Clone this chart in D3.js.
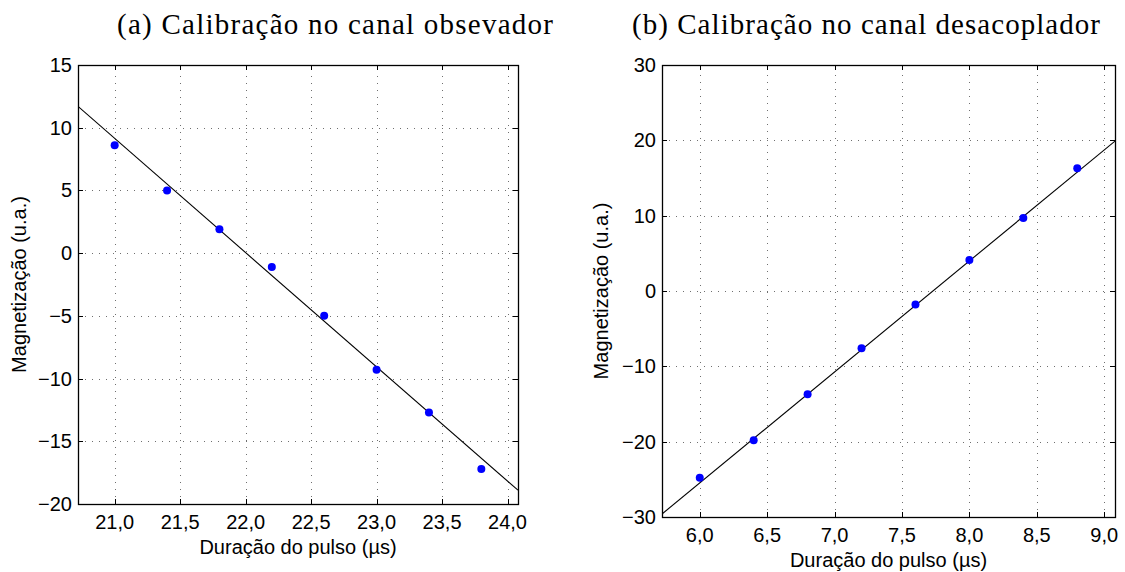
<!DOCTYPE html>
<html>
<head>
<meta charset="utf-8">
<script src="https://cdn.jsdelivr.net/npm/d3@7"></script>
<style>
  html, body { margin: 0; padding: 0; background: #fff; }
  svg { display: block; }
  .tick-label { font-family: "Liberation Sans", Arial, sans-serif; font-size: 20px; fill: #000; }
  .axis-title { font-family: "Liberation Sans", Arial, sans-serif; font-size: 20px; fill: #000; }
  .panel-title { font-family: "Liberation Serif", "DejaVu Serif", serif; font-size: 29px; fill: #000; }
</style>
</head>
<body>
<svg id="chart" width="1125" height="572"></svg>
<script>
// ---- Panel (a): observer channel ----
const obsDuration = [21.0, 21.4, 21.8, 22.2, 22.6, 23.0, 23.4, 23.8];
const obsMagnet   = [8.6, 5.0, 1.9, -1.1, -5.0, -9.3, -12.7, -17.2];
const obsFitX     = [20.72, 24.08];
const obsFitY     = [11.7, -18.9];
const obsXTicks   = [21.0, 21.5, 22.0, 22.5, 23.0, 23.5, 24.0];
const obsYTicks   = [-20, -15, -10, -5, 0, 5, 10, 15];
const obsXDomain  = [20.72, 24.08];
const obsYDomain  = [-20, 15];

// ---- Panel (b): decoupler channel ----
const decDuration = [6.0, 6.4, 6.8, 7.2, 7.6, 8.0, 8.4, 8.8];
const decMagnet   = [-24.8, -19.8, -13.7, -7.6, -1.8, 4.1, 9.7, 16.3];
const decFitX     = [5.72, 9.08];
const decFitY     = [-29.6, 19.9];
const decXTicks   = [6.0, 6.5, 7.0, 7.5, 8.0, 8.5, 9.0];
const decYTicks   = [-30, -20, -10, 0, 10, 20, 30];
const decXDomain  = [5.72, 9.08];
const decYDomain  = [-30, 30];

const titles = ["(a) Calibração no canal obsevador", "(b) Calibração no canal desacoplador"];
const xTitle = "Duração do pulso (µs)";
const yTitle = "Magnetização (u.a.)";

const svg = d3.select("#chart");
const fmtX = v => d3.format(".1f")(v).replace(".", ",");
const fmtY = v => (v < 0 ? "\u2212" + Math.abs(v) : String(v));

function panel(opts) {
  const { box, xDomain, yDomain, xTicks, yTicks, xs, ys, fitX, fitY, title, titleX, titleLen, yTitleX } = opts;
  const x = d3.scaleLinear().domain(xDomain).range([box.left, box.right]);
  const y = d3.scaleLinear().domain(yDomain).range([box.bottom, box.top]);
  const g = svg.append("g");

  // dotted grid
  const grid = g.append("g").attr("stroke", "#333").attr("stroke-width", 1)
    .attr("stroke-dasharray", "1,6").attr("opacity", 0.7);
  grid.selectAll("line.vx").data(xTicks).join("line")
    .attr("x1", d => Math.round(x(d)) + 0.5).attr("x2", d => Math.round(x(d)) + 0.5)
    .attr("y1", box.bottom).attr("y2", box.top);
  grid.selectAll("line.hy").data(yTicks.filter(v => v > yDomain[0] && v < yDomain[1])).join("line")
    .attr("y1", d => Math.round(y(d)) + 0.5).attr("y2", d => Math.round(y(d)) + 0.5)
    .attr("x1", box.left).attr("x2", box.right);

  // clip region for the fitted line
  const clipId = "clip" + Math.round(box.left);
  g.append("clipPath").attr("id", clipId).append("rect")
    .attr("x", box.left).attr("y", box.top)
    .attr("width", box.right - box.left).attr("height", box.bottom - box.top);

  // fitted line
  g.append("path")
    .datum(fitX.map((v, i) => [v, fitY[i]]))
    .attr("clip-path", `url(#${clipId})`)
    .attr("fill", "none").attr("stroke", "#000").attr("stroke-width", 1.1)
    .attr("d", d3.line().x(d => x(d[0])).y(d => y(d[1])));

  // measured points
  g.append("g").selectAll("circle").data(xs.map((v, i) => [v, ys[i]])).join("circle")
    .attr("cx", d => x(d[0])).attr("cy", d => y(d[1])).attr("r", 4)
    .attr("fill", "#0000ff");

  // inward ticks on all four sides
  const tl = 5;
  const ticks = g.append("g").attr("stroke", "#000").attr("stroke-width", 1);
  xTicks.forEach(v => {
    const px = Math.round(x(v)) + 0.5;
    ticks.append("line").attr("x1", px).attr("x2", px).attr("y1", box.bottom).attr("y2", box.bottom - tl);
    ticks.append("line").attr("x1", px).attr("x2", px).attr("y1", box.top).attr("y2", box.top + tl);
  });
  yTicks.forEach(v => {
    const py = Math.round(y(v)) + 0.5;
    ticks.append("line").attr("y1", py).attr("y2", py).attr("x1", box.left).attr("x2", box.left + tl);
    ticks.append("line").attr("y1", py).attr("y2", py).attr("x1", box.right).attr("x2", box.right - tl);
  });

  // frame
  g.append("rect").attr("x", box.left + 0.5).attr("y", box.top + 0.5)
    .attr("width", box.right - box.left).attr("height", box.bottom - box.top)
    .attr("fill", "none").attr("stroke", "#000").attr("stroke-width", 1.3);

  // tick labels
  g.append("g").selectAll("text").data(xTicks).join("text")
    .attr("class", "tick-label").attr("text-anchor", "middle")
    .attr("x", d => x(d)).attr("y", box.bottom + 25)
    .text(fmtX);
  g.append("g").selectAll("text").data(yTicks).join("text")
    .attr("class", "tick-label").attr("text-anchor", "end")
    .attr("x", box.left - 6).attr("y", d => y(d) + 7)
    .text(fmtY);

  // axis titles
  g.append("text").attr("class", "axis-title").attr("text-anchor", "middle")
    .attr("x", (box.left + box.right) / 2).attr("y", box.bottom + 50)
    .text(xTitle);
  g.append("text").attr("class", "axis-title").attr("text-anchor", "middle")
    .attr("transform", `translate(${yTitleX},${(box.top + box.bottom) / 2}) rotate(-90)`)
    .text(yTitle);

  // panel title
  g.append("text").attr("class", "panel-title").attr("text-anchor", "middle")
    .attr("x", titleX).attr("y", 34)
    .attr("textLength", titleLen).attr("lengthAdjust", "spacing")
    .text(title);
}

panel({
  box: { left: 78, right: 518, top: 65, bottom: 504 },
  xDomain: obsXDomain, yDomain: obsYDomain, xTicks: obsXTicks, yTicks: obsYTicks,
  xs: obsDuration, ys: obsMagnet, fitX: obsFitX, fitY: obsFitY,
  title: titles[0], titleX: 335, titleLen: 436, yTitleX: 26
});

panel({
  box: { left: 662, right: 1115, top: 65, bottom: 517 },
  xDomain: decXDomain, yDomain: decYDomain, xTicks: decXTicks, yTicks: decYTicks,
  xs: decDuration, ys: decMagnet, fitX: decFitX, fitY: decFitY,
  title: titles[1], titleX: 866, titleLen: 468, yTitleX: 608
});
</script>
</body>
</html>
